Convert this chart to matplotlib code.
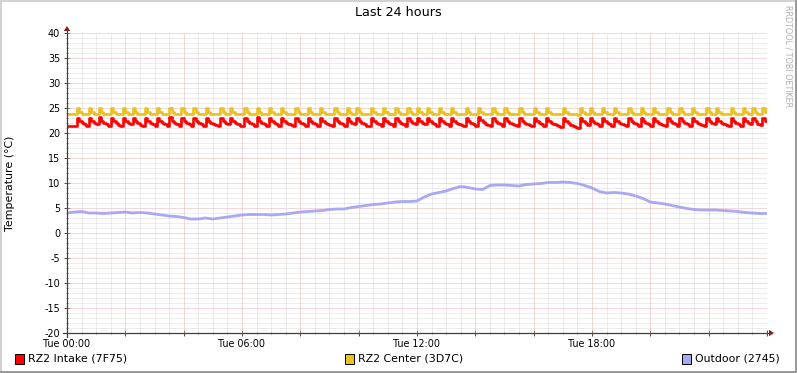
import matplotlib
matplotlib.use('Agg')
import matplotlib.pyplot as plt
from matplotlib.patches import Rectangle, Polygon
from matplotlib.lines import Line2D

# ---------------- data ----------------
title = "Last 24 hours"
y_label = "Temperature (°C)"
series_names = ["RZ2 Intake (7F75)", "RZ2 Center (3D7C)", "Outdoor (2745)"]
series_colors = ["#FF0000", "#EAC11F", "#A8A8F4"]
x_tick_hours = [0, 6, 12, 18]
x_tick_labels = ["Tue 00:00", "Tue 06:00", "Tue 12:00", "Tue 18:00"]
y_ticks = [-20, -15, -10, -5, 0, 5, 10, 15, 20, 25, 30, 35, 40]

# 5-minute samples (288 per day)
intake = [
    21.5, 21.5, 21.4, 21.5, 23.1, 22.5, 22.1, 21.8, 21.5, 23.0, 22.5, 22.1,
    21.8, 23.2, 22.5, 22.1, 21.8, 21.5, 23.1, 22.4, 22.0, 21.7, 21.5, 23.1,
    22.5, 22.1, 21.8, 23.0, 22.4, 22.0, 21.7, 21.5, 23.1, 22.5, 22.1, 21.8,
    21.5, 23.1, 22.5, 22.1, 21.8, 21.5, 23.2, 22.5, 22.1, 21.8, 21.5, 23.1,
    22.5, 22.1, 21.8, 21.5, 23.1, 22.5, 22.1, 21.8, 21.5, 23.0, 22.5, 22.1,
    21.8, 21.6, 21.5, 23.1, 22.5, 22.1, 21.8, 23.1, 22.5, 22.1, 21.8, 21.5,
    21.4, 23.1, 22.5, 22.1, 21.8, 21.5, 23.2, 22.5, 22.1, 21.8, 21.5, 23.1,
    22.5, 22.1, 21.8, 21.5, 23.1, 22.5, 22.1, 21.8, 21.6, 21.5, 23.1, 22.5,
    22.1, 21.8, 21.5, 23.1, 22.5, 22.1, 21.8, 21.5, 23.0, 22.5, 22.1, 21.8,
    21.6, 21.5, 23.1, 22.5, 22.1, 21.8, 21.5, 23.1, 22.5, 22.1, 21.8, 23.1,
    22.5, 22.1, 21.8, 21.5, 21.5, 23.1, 22.5, 22.1, 21.8, 21.5, 23.1, 22.5,
    22.1, 21.8, 21.5, 23.1, 22.5, 22.1, 21.8, 21.5, 23.1, 22.5, 22.1, 21.8,
    23.0, 22.5, 22.1, 21.8, 23.1, 22.5, 22.1, 21.8, 21.5, 23.1, 22.5, 22.1,
    21.8, 21.5, 23.1, 22.5, 22.1, 21.8, 21.6, 21.5, 23.1, 22.5, 22.1, 21.8,
    21.5, 23.2, 22.6, 22.2, 21.9, 21.6, 21.5, 23.1, 22.5, 22.1, 21.8, 21.5,
    23.1, 22.5, 22.1, 21.8, 21.6, 21.5, 23.1, 22.5, 22.1, 21.8, 21.6, 21.5,
    23.1, 22.5, 22.1, 21.8, 21.5, 23.1, 22.5, 22.1, 21.8, 21.6, 21.4, 21.2,
    23.1, 22.5, 22.0, 21.7, 21.4, 21.2, 21.0, 23.0, 22.4, 22.0, 21.7, 23.1,
    22.5, 22.1, 21.8, 21.5, 23.1, 22.5, 22.1, 21.8, 21.5, 23.1, 22.5, 22.1,
    21.8, 21.6, 21.5, 23.1, 22.5, 22.1, 21.8, 21.5, 23.1, 22.5, 22.1, 21.8,
    21.5, 23.1, 22.5, 22.1, 21.8, 21.6, 21.5, 23.1, 22.5, 22.1, 21.8, 21.5,
    23.1, 22.5, 22.1, 21.8, 21.5, 23.1, 22.5, 22.1, 21.8, 21.6, 21.5, 23.1,
    22.5, 22.1, 21.8, 23.1, 22.5, 22.1, 21.8, 21.6, 21.5, 23.1, 22.5, 22.1,
    21.8, 21.5, 23.1, 22.5, 22.1, 21.8, 23.0, 22.4, 21.9, 21.6, 23.0, 22.5,
]
center = [
    23.8, 23.8, 23.8, 23.8, 25.0, 24.2, 23.9, 23.8, 23.8, 25.0, 24.2, 23.9,
    23.8, 25.0, 24.2, 23.9, 23.8, 23.8, 25.0, 24.2, 23.9, 23.8, 23.8, 25.0,
    24.2, 23.9, 23.8, 25.0, 24.2, 23.9, 23.8, 23.8, 25.0, 24.2, 23.9, 23.8,
    23.8, 25.0, 24.2, 23.9, 23.8, 23.8, 25.1, 24.2, 23.9, 23.8, 23.8, 25.0,
    24.2, 23.9, 23.8, 23.8, 25.0, 24.2, 23.9, 23.8, 23.8, 25.0, 24.2, 23.9,
    23.8, 23.8, 23.8, 25.0, 24.2, 23.9, 23.8, 25.0, 24.2, 23.9, 23.8, 23.8,
    23.8, 25.0, 24.2, 23.9, 23.8, 23.8, 25.1, 24.2, 23.9, 23.8, 23.8, 25.0,
    24.2, 23.9, 23.8, 23.8, 25.0, 24.2, 23.9, 23.8, 23.8, 23.8, 25.0, 24.2,
    23.9, 23.8, 23.8, 25.0, 24.2, 23.9, 23.8, 23.8, 25.0, 24.2, 23.9, 23.8,
    23.8, 23.8, 25.0, 24.2, 23.9, 23.8, 23.8, 25.0, 24.2, 23.9, 23.8, 25.0,
    24.2, 23.9, 23.8, 23.8, 23.8, 25.0, 24.2, 23.9, 23.8, 23.8, 25.0, 24.2,
    23.9, 23.8, 23.8, 25.0, 24.2, 23.9, 23.8, 23.8, 25.0, 24.2, 23.9, 23.8,
    25.0, 24.2, 23.9, 23.8, 25.0, 24.2, 23.9, 23.8, 23.8, 25.0, 24.2, 23.9,
    23.8, 23.8, 25.0, 24.2, 23.9, 23.8, 23.8, 23.8, 25.0, 24.2, 23.9, 23.8,
    23.8, 25.1, 24.2, 23.9, 23.8, 23.8, 23.8, 25.0, 24.2, 23.9, 23.8, 23.8,
    25.0, 24.2, 23.9, 23.8, 23.8, 23.8, 25.0, 24.2, 23.9, 23.8, 23.8, 23.8,
    25.0, 24.2, 23.9, 23.8, 23.8, 25.0, 24.2, 23.9, 23.8, 23.8, 23.8, 23.8,
    25.0, 24.2, 23.9, 23.8, 23.8, 23.8, 23.7, 25.0, 24.2, 23.9, 23.8, 25.0,
    24.2, 23.9, 23.8, 23.8, 25.0, 24.2, 23.9, 23.8, 23.8, 25.0, 24.2, 23.9,
    23.8, 23.8, 23.8, 25.0, 24.2, 23.9, 23.8, 23.8, 25.0, 24.2, 23.9, 23.8,
    23.8, 25.0, 24.2, 23.9, 23.8, 23.8, 23.8, 25.0, 24.2, 23.9, 23.8, 23.8,
    25.0, 24.2, 23.9, 23.8, 23.8, 25.0, 24.2, 23.9, 23.8, 23.8, 23.8, 25.0,
    24.2, 23.9, 23.8, 25.0, 24.2, 23.9, 23.8, 23.8, 23.8, 25.0, 24.2, 23.9,
    23.8, 23.8, 25.0, 24.2, 23.9, 23.8, 25.0, 24.2, 23.9, 23.8, 25.0, 24.2,
]
# 15-minute samples (97 points, 0h..24h)
outdoor = [
    4.0, 4.2, 4.3, 4.0, 4.0, 3.9, 4.0, 4.1, 4.2, 4.0, 4.1, 4.0,
    3.8, 3.6, 3.4, 3.3, 3.1, 2.8, 2.8, 3.0, 2.8, 3.0, 3.2, 3.4,
    3.6, 3.7, 3.7, 3.7, 3.6, 3.7, 3.8, 4.0, 4.2, 4.3, 4.4, 4.5,
    4.7, 4.8, 4.8, 5.1, 5.3, 5.5, 5.7, 5.8, 6.0, 6.2, 6.3, 6.3,
    6.4, 7.2, 7.8, 8.1, 8.4, 8.9, 9.3, 9.1, 8.8, 8.7, 9.5, 9.6,
    9.6, 9.5, 9.4, 9.7, 9.8, 9.9, 10.1, 10.1, 10.2, 10.1, 9.9, 9.5,
    9.0, 8.3, 8.0, 8.1, 8.0, 7.8, 7.4, 6.9, 6.2, 6.0, 5.8, 5.5,
    5.2, 4.9, 4.7, 4.6, 4.6, 4.6, 4.5, 4.4, 4.3, 4.1, 4.0, 3.9,
    3.9,
]

# ---------------- figure ----------------
W, H = 797, 373
fig = plt.figure(figsize=(W / 100, H / 100), dpi=100)
fig.patch.set_facecolor('white')
font = 'DejaVu Sans'

# background overlay in pixel coordinates
bg = fig.add_axes([0, 0, 1, 1], zorder=0)
bg.set_xlim(0, W)
bg.set_ylim(H, 0)
bg.axis('off')
bg.add_patch(Rectangle((0, 0), W, 2, color='#D2D2D2', lw=0))
bg.add_patch(Rectangle((0, 0), 2, H, color='#D2D2D2', lw=0))
bg.add_patch(Rectangle((W - 2, 0), 2, H, color='#9A9A9A', lw=0))
bg.add_patch(Rectangle((0, H - 2), W, 2, color='#9A9A9A', lw=0))

# plotting axes
L, R, T, B = 67, 767, 33, 333
ax = fig.add_axes([L / W, (H - B) / H, (R - L) / W, (B - T) / H], zorder=1)
ax.set_facecolor('white')
ax.set_xlim(0, 24)
ax.set_ylim(-20, 40)
for s in ax.spines.values():
    s.set_visible(False)

minor_c = '#DADADA'
major_c = '#EBB3B3'
dot = (0, (1, 1))
for i in range(49):
    h = i * 0.5
    if i % 4 == 0:
        continue
    ax.axvline(h, color=minor_c, lw=0.72, ls=dot, zorder=1)
for v in range(-20, 41):
    if v % 5 == 0:
        continue
    ax.axhline(v, color=minor_c, lw=0.72, ls=dot, zorder=1)
for h in range(2, 25, 2):
    ax.axvline(h, color=major_c, lw=0.72, ls=dot, zorder=2)
for v in y_ticks[1:]:
    ax.axhline(v, color=major_c, lw=0.72, ls=dot, zorder=2)

# series
x5 = [i / 12 for i in range(len(intake))] + [24]
ax.plot(x5, intake + [intake[-1]], color=series_colors[0], lw=1.9,
        drawstyle='steps-post', zorder=5)
ax.plot(x5, center + [center[-1]], color=series_colors[1], lw=1.9,
        drawstyle='steps-post', zorder=4)
x15 = [i / 4 for i in range(len(outdoor))]
ax.plot(x15, outdoor, color=series_colors[2], lw=2.0, zorder=3)

# ticks
ax.set_xticks(list(range(0, 25, 2)))
ax.set_xticklabels([x_tick_labels[x_tick_hours.index(h)] if h in x_tick_hours else ''
                    for h in range(0, 25, 2)])
ax.set_xticks([i * 0.5 for i in range(49)], minor=True)
ax.set_yticks(y_ticks)
ax.set_yticklabels([str(v) for v in y_ticks])
ax.set_yticks(list(range(-20, 41)), minor=True)
ax.tick_params(axis='both', which='major', direction='inout', length=4,
               width=0.7, color='#505050', labelsize=6.9, pad=2)
ax.tick_params(axis='both', which='minor', direction='inout', length=2,
               width=0.7, color='#909090')
ax.tick_params(axis='y', which='major', pad=3)
for lab in ax.get_xticklabels() + ax.get_yticklabels():
    lab.set_family(font)

# foreground overlay: axes lines and arrows, texts, legend
fg = fig.add_axes([0, 0, 1, 1], zorder=2)
fg.set_xlim(0, W)
fg.set_ylim(H, 0)
fg.axis('off')
fg.patch.set_alpha(0)
axis_c = '#404040'
arrow_c = '#8B1A1A'
fg.add_line(Line2D([L - 4, R + 4], [B, B], color=axis_c, lw=0.9))
fg.add_line(Line2D([L, L], [B + 4, T - 4], color=axis_c, lw=0.9))
fg.add_patch(Polygon([[R + 2, B - 3.2], [R + 2, B + 3.2], [R + 7, B]],
                     closed=True, color=arrow_c, lw=0))
fg.add_patch(Polygon([[L - 3.2, T - 2], [L + 3.2, T - 2], [L, T - 7]],
                     closed=True, color=arrow_c, lw=0))

fg.text(W / 2, 13, title, ha='center', va='center', fontsize=9.2,
        family=font, color='black')
fg.text(10, 183, y_label, ha='center', va='center', rotation=90,
        fontsize=7.9, family=font, color='black')
fg.text(788, 5, "RRDTOOL / TOBI OETIKER", ha='center', va='top',
        rotation=270, fontsize=5.8, family=font, color='#B0B0B0')

leg_x = [15, 345, 682]
for xs, name, col in zip(leg_x, series_names, series_colors):
    fg.add_patch(Rectangle((xs + 0.5, 353.5), 9, 10, facecolor=col,
                           edgecolor='black', lw=0.7))
    fg.text(xs + 13, 358.8, name, ha='left', va='center', fontsize=7.9,
            family=font, color='black')

fig.savefig('out.png', dpi=100, facecolor='white')
